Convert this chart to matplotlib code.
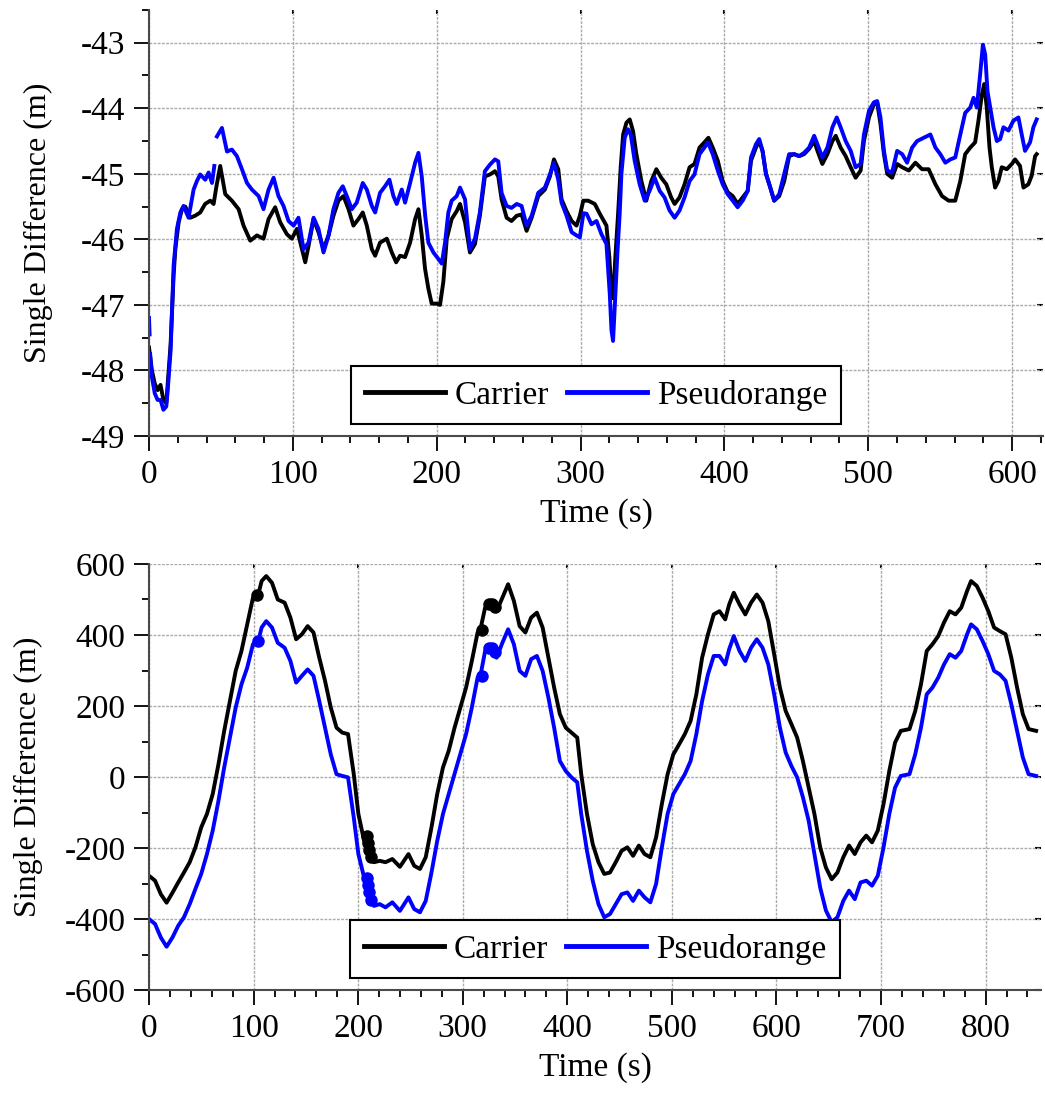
import numpy as np
import matplotlib
matplotlib.use("Agg")
import matplotlib.pyplot as plt
from matplotlib.ticker import MultipleLocator

plt.rcParams["font.family"] = ["Liberation Serif", "DejaVu Serif"]
plt.rcParams["axes.unicode_minus"] = False

# -------------------------
# Data
# -------------------------
# top panel: carrier
carrier_top_t = [0, 2, 4, 6, 8, 10, 12, 13, 15, 17.1, 18.3, 20.6, 22.9, 25.2, 28.7, 32.0, 35.6, 39.0,
                 42.6, 44.9, 46.8, 49.5, 53.0, 57.6, 62.3, 65.7, 70.4, 75.0, 79.6, 83.1, 87.7, 91.2,
                 95.8, 99.3, 102.8, 106.3, 108.6, 110.9, 114.4, 117.8, 121.3, 124.8, 128.2, 131.7,
                 135.2, 138.7, 142.1, 145.6, 148.6, 151.4, 154.9, 157.2, 160.6, 165.3, 168.8, 171.8,
                 174.5, 178.0, 181.5, 185.0, 187.3, 189.6, 191.9, 194.2, 196.5, 200.0, 202.3, 204.6,
                 207.0, 210.4, 213.9, 216.2, 219.7, 223.1, 226.6, 230.0, 233.5, 237.0, 240.5, 242.8,
                 245.1, 248.6, 252.0, 255.6, 259.0, 262.5, 266.0, 270.6, 275.2, 278.7, 281.5, 284.5,
                 286.8, 290.3, 293.8, 297.2, 299.5, 301.9, 305.3, 309.9, 313.4, 318.0, 320.0, 321.5,
                 322.6, 324.2, 326.1, 327.9, 329.6, 331.9, 334.2, 336.5, 338.8, 342.3, 345.7, 349.2,
                 352.7, 356.1, 359.6, 363.0, 365.4, 368.8, 372.3, 375.8, 379.2, 382.7, 386.1, 388.9,
                 391.9, 395.4, 398.8, 402.3, 405.8, 409.2, 412.7, 416.2, 418.5, 421.9, 424.2, 426.5,
                 428.9, 431.9, 434.6, 438.1, 441.6, 445.0, 448.5, 452.0, 455.4, 458.9, 462.4, 464.7,
                 468.1, 471.6, 475.1, 477.4, 480.8, 484.3, 487.8, 491.2, 494.7, 497.0, 500.5, 503.9,
                 506.2, 508.5, 510.9, 513.2, 516.6, 520.1, 523.6, 528.2, 532.8, 537.4, 542.0, 546.7,
                 551.3, 555.9, 560.5, 564.0, 567.4, 570.9, 574.3, 576.6, 579.0, 580.6, 582.4, 584.3,
                 585.9, 588.2, 590.5, 592.8, 596.3, 599.8, 602.1, 605.5, 607.9, 611.3, 613.6, 616.0, 617.1]
carrier_top_v = [-47.65, -48.0, -48.2, -48.3, -48.22, -48.45, -48.5, -48.2, -47.6, -46.55, -46.15, -45.74,
                 -45.54, -45.5, -45.67, -45.64, -45.59, -45.46, -45.41, -45.46, -45.2, -44.88, -45.31,
                 -45.41, -45.54, -45.79, -46.02, -45.94, -45.99, -45.69, -45.51, -45.74, -45.92, -45.99,
                 -45.84, -46.15, -46.35, -46.1, -45.69, -45.89, -46.15, -45.94, -45.64, -45.41, -45.34,
                 -45.54, -45.79, -45.69, -45.59, -45.79, -46.15, -46.25, -46.05, -45.99, -46.2, -46.35,
                 -46.25, -46.27, -46.05, -45.69, -45.54, -45.94, -46.45, -46.75, -46.98, -46.98, -47.0,
                 -46.65, -45.99, -45.69, -45.57, -45.46, -45.74, -46.2, -46.07, -45.64, -45.04, -45.01,
                 -44.96, -45.04, -45.39, -45.67, -45.72, -45.64, -45.62, -45.87, -45.67, -45.34, -45.24,
                 -45.04, -44.78, -44.93, -45.39, -45.57, -45.72, -45.79, -45.64, -45.41, -45.41, -45.46,
                 -45.61, -45.79, -46.27, -46.83, -46.9, -46.27, -45.61, -44.9, -44.4, -44.22, -44.17,
                 -44.35, -44.7, -45.11, -45.41, -45.11, -44.93, -45.06, -45.16, -45.36, -45.46, -45.36,
                 -45.16, -44.9, -44.85, -44.6, -44.52, -44.45, -44.6, -44.8, -45.11, -45.28, -45.34,
                 -45.46, -45.36, -45.26, -44.8, -44.6, -44.5, -44.65, -45.0, -45.21, -45.41, -45.34,
                 -45.11, -44.73, -44.7, -44.73, -44.7, -44.62, -44.5, -44.65, -44.85, -44.7, -44.5,
                 -44.42, -44.6, -44.73, -44.9, -45.06, -44.95, -44.5, -44.14, -43.94, -43.91, -44.24,
                 -44.7, -45.0, -45.06, -44.85, -44.9, -44.95, -44.83, -44.93, -44.93, -45.16, -45.34,
                 -45.41, -45.41, -45.11, -44.7, -44.6, -44.52, -44.19, -43.79, -43.63, -43.99, -44.6,
                 -44.9, -45.21, -45.11, -44.9, -44.93, -44.85, -44.78, -44.88, -45.21, -45.16, -45.03,
                 -44.73, -44.7]

# top panel: pseudorange (nan = short data gap)
pseudo_top_t = [0, 0.4, 0.6, 0.8, 2, 4, 6, 8, 10, 12, 13, 15, 16.5, 17.1, 19.4, 21.8, 24.0, 27.5, 31.0,
                33.3, 35.6, 39.1, 41.4, 43.8, 45.4, 46.3, 47.2, 50.7, 54.2, 57.6, 61.1, 64.6, 68.1, 71.5,
                76.2, 79.6, 83.1, 86.6, 90.0, 93.5, 97.0, 100.5, 103.9, 107.4, 110.9, 114.4, 117.8,
                121.3, 124.8, 128.2, 131.7, 134.7, 137.5, 141.0, 144.4, 148.6, 151.4, 154.9, 157.2,
                160.6, 164.1, 167.1, 169.9, 172.2, 175.7, 178.0, 181.5, 185.0, 187.3, 189.6, 192.0,
                194.2, 197.7, 201.2, 203.5, 205.8, 208.1, 210.4, 213.9, 216.2, 219.7, 223.1, 226.6,
                230.0, 233.5, 237.0, 240.5, 242.8, 245.1, 248.6, 252.0, 255.6, 259.0, 262.5, 266.0,
                270.6, 275.2, 278.7, 281.5, 284.5, 286.8, 290.3, 293.8, 297.2, 299.5, 302.0, 304.2,
                307.6, 311.1, 314.5, 318.0, 320.3, 321.5, 322.6, 324.2, 325.6, 327.2, 328.4, 330.7,
                333.0, 334.9, 337.6, 341.1, 344.6, 348.0, 351.5, 355.0, 358.4, 361.9, 365.4, 368.8,
                372.3, 375.8, 379.2, 382.7, 386.1, 388.5, 391.9, 395.4, 398.8, 402.3, 405.8, 409.2,
                412.7, 416.2, 418.5, 421.9, 424.2, 426.5, 428.9, 431.9, 434.6, 438.1, 441.6, 445.0,
                448.5, 452.0, 455.4, 458.9, 462.4, 464.7, 468.1, 471.6, 475.1, 478.1, 480.8, 484.3,
                487.8, 491.2, 494.7, 497.0, 500.5, 503.9, 506.2, 508.5, 510.9, 513.2, 516.6, 520.1,
                523.6, 527.0, 530.5, 534.0, 538.6, 543.2, 546.7, 550.1, 553.6, 557.1, 560.5, 564.0,
                567.4, 570.9, 573.2, 575.5, 577.8, 579.7, 581.3, 582.9, 584.8, 587.1, 589.4, 591.7,
                594.0, 597.5, 600.9, 604.4, 606.7, 609.0, 612.5, 614.8, 617.1]
pseudo_top_v = [-47.2, -47.45, np.nan, -47.75, -48.1, -48.35, -48.45, -48.45, -48.6, -48.55, -48.3, -47.7,
                -46.8, -46.4, -45.84, -45.59, -45.49, -45.67, -45.24, -45.11, -45.01, -45.09, -44.98,
                -45.14, -44.88, np.nan, -44.43, -44.3, -44.66, -44.63, -44.73, -44.93, -45.14, -45.24,
                -45.34, -45.54, -45.24, -45.06, -45.34, -45.49, -45.72, -45.79, -45.67, -46.15, -46.05,
                -45.67, -45.84, -46.2, -45.94, -45.54, -45.29, -45.19, -45.34, -45.54, -45.44, -45.14,
                -45.24, -45.49, -45.59, -45.29, -45.19, -45.09, -45.34, -45.46, -45.24, -45.44, -45.14,
                -44.83, -44.68, -45.04, -45.64, -46.05, -46.2, -46.3, -46.37, -46.05, -45.59, -45.41,
                -45.34, -45.21, -45.39, -46.15, -45.99, -45.59, -44.96, -44.86, -44.78, -44.81, -45.29,
                -45.49, -45.52, -45.46, -45.49, -45.79, -45.64, -45.29, -45.21, -45.01, -44.83, -45.09,
                -45.44, -45.64, -45.89, -45.94, -45.97, -45.6, -45.61, -45.77, -45.72, -45.92, -46.07,
                -46.83, -47.39, -47.55, -46.83, -46.22, -45.61, -45.0, -44.45, -44.32, -44.4, -44.8,
                -45.16, -45.41, -45.26, -45.06, -45.26, -45.36, -45.56, -45.67, -45.56, -45.36, -45.11,
                -45.01, -44.7, -44.6, -44.52, -44.7, -44.95, -45.16, -45.31, -45.41, -45.51, -45.41,
                -45.26, -44.75, -44.55, -44.47, -44.65, -45.0, -45.21, -45.41, -45.31, -45.0, -44.7,
                -44.7, -44.73, -44.68, -44.6, -44.42, -44.55, -44.75, -44.6, -44.29, -44.14, -44.29,
                -44.5, -44.65, -44.9, -44.85, -44.4, -44.04, -43.91, -43.89, -44.14, -44.65, -44.95,
                -44.98, -44.65, -44.7, -44.83, -44.6, -44.5, -44.45, -44.4, -44.6, -44.7, -44.83,
                -44.78, -44.75, -44.4, -44.07, -43.99, -43.84, -43.99, -43.48, -43.03, -43.18, -43.74,
                -43.99, -44.29, -44.5, -44.47, -44.29, -44.34, -44.19, -44.14, -44.4, -44.65, -44.52,
                -44.29, -44.17]

# bottom panel (both series read at the same times)
bottom_t = [0, 5.8, 11.3, 16.8, 22.4, 27.9, 33.4, 38.9, 44.4, 49.9,
            55.4, 60.9, 66.4, 71.9, 77.4, 82.9, 88.4, 93.9, 99.4, 104.9,
            107.7, 112.1, 117.6, 123.1, 129.7, 135.2, 140.7, 146.2, 151.7, 157.3,
            162.8, 168.3, 173.8, 179.3, 184.8, 190.3, 195.8, 200.2, 205.7, 209.6,
            215.1, 220.6, 226.1, 232.7, 239.9, 248.1, 253.6, 259.1, 264.6, 270.1,
            275.6, 281.1, 286.6, 292.2, 297.7, 303.2, 308.7, 314.2, 316.9, 321.4,
            326.9, 332.4, 337.9, 343.4, 348.9, 354.4, 359.9, 365.4, 370.9, 376.4,
            381.9, 387.4, 392.9, 398.5, 404.0, 409.5, 413.3, 418.8, 424.3, 429.8,
            435.3, 440.8, 446.3, 451.9, 457.4, 462.9, 468.4, 473.9, 479.4, 484.9,
            490.4, 495.9, 501.4, 506.9, 512.4, 517.9, 523.4, 528.9, 534.5, 540.0,
            545.5, 551.0, 554.8, 559.2, 564.7, 570.2, 575.7, 581.2, 586.7, 592.2,
            597.8, 603.3, 608.8, 614.3, 619.8, 625.3, 630.8, 636.3, 641.8, 647.3,
            652.8, 658.3, 663.9, 669.4, 674.9, 680.4, 685.9, 691.4, 696.9, 702.4,
            707.9, 713.4, 718.9, 727.2, 732.7, 738.2, 743.7, 749.2, 754.7, 760.2,
            765.7, 771.2, 776.7, 782.3, 786.1, 791.6, 797.1, 802.6, 808.1, 813.6,
            819.1, 824.6, 830.1, 835.6, 841.1, 848.3]
carrier_bot_v = [-278, -292, -330, -354, -326, -297, -269, -240, -198, -142,
                 -104, -48, 36, 130, 214, 299, 355, 430, 505, 519,
                 552, 566, 547, 500, 491, 449, 388, 402, 425, 407,
                 336, 271, 196, 139, 125, 121, 8, -104, -180, -208,
                 -240, -236, -240, -231, -253, -217, -250, -259, -226, -142,
                 -48, 27, 74, 139, 196, 252, 327, 407, 416, 477,
                 491, 467, 505, 543, 496, 425, 407, 449, 463, 421,
                 336, 252, 177, 139, 125, 111, 8, -104, -189, -240,
                 -273, -269, -240, -208, -198, -222, -193, -217, -226, -170,
                 -76, 8, 64, 92, 121, 158, 233, 336, 402, 458,
                 467, 444, 486, 519, 486, 458, 491, 514, 491, 439,
                 346, 252, 186, 149, 111, 45, -30, -104, -198, -255,
                 -288, -269, -226, -193, -217, -184, -165, -184, -151, -76,
                 17, 97, 130, 135, 186, 261, 355, 374, 397, 435,
                 467, 458, 477, 524, 552, 538, 505, 467, 421, 411,
                 402, 336, 252, 177, 135, 130]
pseudo_bot_v = [-400, -414, -452, -478, -452, -419, -395, -358, -315, -273,
                -217, -151, -67, 27, 111, 196, 261, 308, 374, 388,
                421, 439, 421, 378, 364, 327, 266, 285, 303, 285,
                214, 139, 64, 8, 3, -1, -114, -217, -283, -330,
                -363, -358, -367, -353, -377, -339, -372, -381, -349, -269,
                -180, -104, -48, 8, 64, 121, 196, 280, 285, 355,
                369, 336, 378, 416, 374, 299, 285, 332, 341, 299,
                224, 139, 45, 17, -1, -15, -104, -208, -292, -358,
                -395, -386, -358, -330, -325, -349, -320, -339, -353, -301,
                -198, -104, -48, -20, 8, 45, 121, 214, 289, 341,
                341, 317, 360, 397, 355, 327, 364, 388, 364, 317,
                233, 139, 69, 31, -1, -57, -123, -217, -311, -376,
                -409, -395, -349, -320, -344, -297, -292, -306, -278, -198,
                -104, -30, 3, 8, 64, 139, 233, 252, 280, 317,
                346, 336, 355, 402, 430, 416, 383, 346, 299, 289,
                271, 205, 130, 55, 8, 3]

# isolated epochs drawn as dots in the bottom panel
carrier_dot_t = [103, 318, 325, 328, 331, 208, 209, 210, 212]
carrier_dot_v = [512, 413, 487, 487, 480, -165, -185, -205, -225]
pseudo_dot_t = [104.6, 318, 325, 328, 331, 208, 209, 210, 212]
pseudo_dot_v = [384, 285, 362, 362, 352, -285, -305, -325, -345]


def style_axes(ax, xmax, ylim, ymajor, yminor):
    ax.set_xlim(0, xmax)
    ax.set_ylim(*ylim)
    ax.xaxis.set_major_locator(MultipleLocator(100))
    ax.xaxis.set_minor_locator(MultipleLocator(20))
    ax.yaxis.set_major_locator(MultipleLocator(ymajor))
    ax.yaxis.set_minor_locator(MultipleLocator(yminor))
    ax.set_axisbelow(True)
    ax.grid(True, which="major", color="#ababab", lw=1.0, ls=(0, (2, 1)))
    for s in ["top", "right"]:
        ax.spines[s].set_visible(False)
    for s in ["left", "bottom"]:
        ax.spines[s].set_color("#4a4a4a")
        ax.spines[s].set_linewidth(1.5)
    ax.tick_params(which="major", direction="out", length=11, width=1.3, labelsize=24, pad=6)
    ax.tick_params(which="minor", direction="out", length=5, width=1.3)
    ax.set_xlabel("Time (s)", fontsize=24)
    ax.set_ylabel("Single Difference (m)", fontsize=23)
    # small marks on top / right like the original
    top = ax.secondary_xaxis("top")
    top.xaxis.set_major_locator(MultipleLocator(100))
    top.tick_params(direction="in", length=3, width=1.5, labeltop=False)
    top.spines["top"].set_visible(False)
    right = ax.secondary_yaxis("right")
    right.yaxis.set_major_locator(MultipleLocator(ymajor))
    right.tick_params(direction="in", length=4, width=1.5, labelright=False)
    right.spines["right"].set_visible(False)


def add_legend(ax):
    leg = ax.legend(loc="lower center", bbox_to_anchor=(0.5, 0.028), ncol=2, fontsize=24,
                    frameon=True, fancybox=False, edgecolor="black", framealpha=1,
                    handlelength=2.4, handletextpad=0.3, columnspacing=0.55, borderpad=0.4,
                    borderaxespad=0)
    leg.get_frame().set_linewidth(1.5)
    for h in leg.get_lines():
        h.set_linewidth(3.5)


fig = plt.figure(figsize=(10.45, 10.93), dpi=100)
ax1 = fig.add_axes([0.1426, 0.6011, 0.8555, 0.3898])
ax2 = fig.add_axes([0.1426, 0.0942, 0.8536, 0.3898])

# ---- top ----
ax1.plot(carrier_top_t, carrier_top_v, color="black", lw=2.8, label="Carrier")
ax1.plot(pseudo_top_t, pseudo_top_v, color="#0000ff", lw=2.8, label="Pseudorange")
style_axes(ax1, 621.5, (-49, -42.5), 1, 0.5)
ax1.yaxis.set_label_coords(-0.107, 0.5)
ax1.xaxis.set_label_coords(0.5, -0.145)
add_legend(ax1)

# ---- bottom ----
ax2.plot(bottom_t, carrier_bot_v, color="black", lw=2.8, label="Carrier")
ax2.plot(bottom_t, pseudo_bot_v, color="#0000ff", lw=2.8, label="Pseudorange")
ax2.plot(carrier_dot_t, carrier_dot_v, "o", color="black", ms=8)
ax2.plot(pseudo_dot_t, pseudo_dot_v, "o", color="#0000ff", ms=8)
style_axes(ax2, 853, (-600, 600), 200, 100)
ax2.yaxis.set_label_coords(-0.119, 0.5)
ax2.xaxis.set_label_coords(0.5, -0.145)
add_legend(ax2)

fig.savefig("out.png", dpi=100)
